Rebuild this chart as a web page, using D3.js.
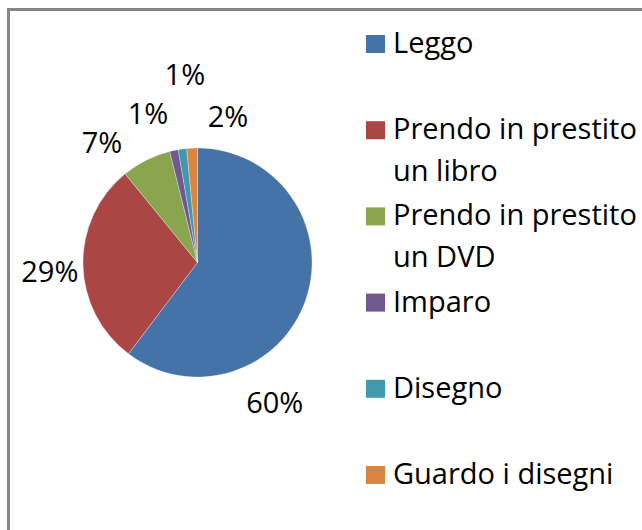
<!DOCTYPE html>
<html>
<head>
<meta charset="utf-8">
<script src="https://cdn.jsdelivr.net/npm/d3@7"></script>
<style>
  html, body { margin: 0; padding: 0; background: #fff; }
  svg { display: block; }
  text { font-family: "Open Sans", "Noto Sans", sans-serif; fill: #000; }
</style>
</head>
<body>
<div id="chart"></div>
<script>
// ------------------------------------------------------
// DATA
// ------------------------------------------------------
var categories = ["Leggo", "Prendo in prestito un libro", "Prendo in prestito un DVD", "Imparo", "Disegno", "Guardo i disegni"];
var legendLines = [["Leggo"], ["Prendo in prestito", "un libro"], ["Prendo in prestito", "un DVD"], ["Imparo"], ["Disegno"], ["Guardo i disegni"]];
var values = [60.3, 28.8, 7.0, 1.2, 1.2, 1.5];
var labels = ["60%", "29%", "7%", "1%", "1%", "2%"];
var colors = ["#4572A7", "#AA4643", "#89A54E", "#71588F", "#4198AF", "#DB843D"];

// ------------------------------------------------------
// SETUP
// ------------------------------------------------------
var width = 642, height = 530;
var svg = d3.select("#chart").append("svg")
    .attr("width", width)
    .attr("height", height);

// chart frame (right and bottom edges fall outside the picture)
svg.append("rect")
    .attr("x", 8.5).attr("y", 9.5)
    .attr("width", 700).attr("height", 600)
    .attr("fill", "none")
    .attr("stroke", "#868686")
    .attr("stroke-width", 3);

// ------------------------------------------------------
// PIE
// ------------------------------------------------------
var cx = 197.5, cy = 262.5, radius = 114.5;

var pie = d3.pie().sort(null).value(function (d) { return d; });
var arcs = pie(values);
var arc = d3.arc().innerRadius(0).outerRadius(radius);

var g = svg.append("g").attr("transform", "translate(" + cx + "," + cy + ")");

g.selectAll("path.slice")
    .data(arcs)
    .enter().append("path")
    .attr("class", "slice")
    .attr("d", arc)
    .attr("fill", function (d, i) { return colors[i]; })
    .attr("stroke", "#fff")
    .attr("stroke-opacity", 0.5)
    .attr("stroke-width", 0.6);

// "best fit" label placement: distance from centre and angle nudge (degrees)
var labelRadius = [160, 148, 153, 157, 188, 149];
var labelNudge = [42.6, -2.6, -12, -6.5, 3.7, 14.5];

g.selectAll("text.pct")
    .data(arcs)
    .enter().append("text")
    .attr("class", "pct")
    .attr("text-anchor", "middle")
    .attr("dy", "0.36em")
    .style("font-size", "29px")
    .attr("transform", function (d, i) {
        var a = (d.startAngle + d.endAngle) / 2 + labelNudge[i] * Math.PI / 180;
        var x = Math.sin(a) * labelRadius[i];
        var y = -Math.cos(a) * labelRadius[i];
        return "translate(" + x + "," + y + ")";
    })
    .text(function (d, i) { return labels[i]; });

// ------------------------------------------------------
// LEGEND
// ------------------------------------------------------
var legendX = 366, firstBase = 53, step = 86.2, lineH = 42;

var items = svg.selectAll("g.legend")
    .data(categories)
    .enter().append("g")
    .attr("class", "legend")
    .attr("transform", function (d, i) { return "translate(" + legendX + "," + (firstBase + i * step) + ")"; });

items.append("rect")
    .attr("x", 0).attr("y", -18)
    .attr("width", 19).attr("height", 18)
    .attr("fill", function (d, i) { return colors[i]; });

items.append("text")
    .style("font-size", "29px")
    .each(function (d, i) {
        var t = d3.select(this);
        legendLines[i].forEach(function (line, k) {
            t.append("tspan")
                .attr("x", 27)
                .attr("y", k * lineH)
                .text(line);
        });
    });
</script>
</body>
</html>
